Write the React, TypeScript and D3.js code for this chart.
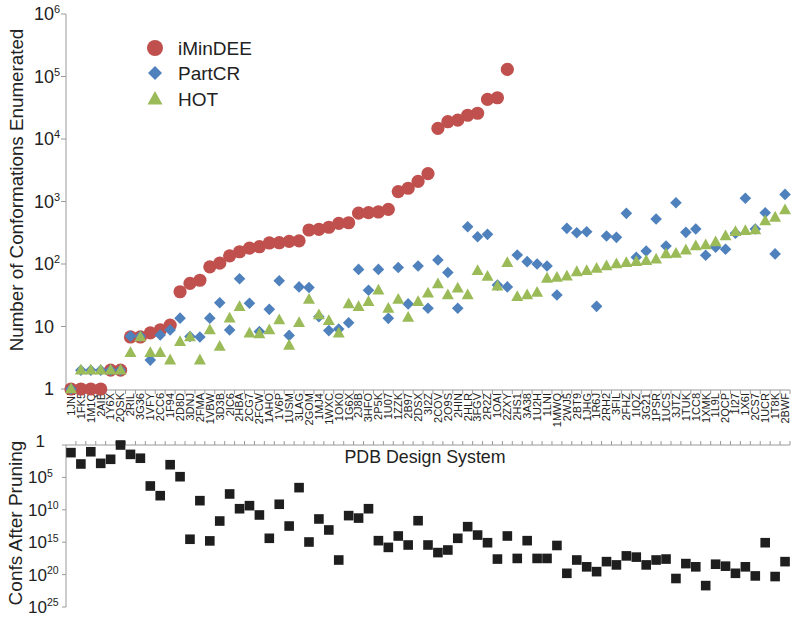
import React from 'react';
import * as d3 from 'd3';

const categories = [
  '1JNI','1FK5','1M1Q','2AIB','1Y6X','2QSK','2RIL','3G36','1VFY','2CC6','1F94','2D8D','3DNJ','2FMA','1VBW','3D3B','2IC6','2HBA','2CG7','2FCW','1AHO','1V6P','1USM','3LAG','2GOM','1MJ4','1WXC','1OK0','1G6X','2J8B','3HFO','2P5K','1U07','1ZZK','2B97','2DSX','3I2Z','2COV','2O9S','2HIN','2HLR','3FGV','2R2Z','1OAI','2ZXY','2HS1','3A38','1U2H','1LNI','1MWQ','2WJ5','2BT9','1JHG','1R6J','2RH2','3FIL','2FHZ','1IQZ','3G21','1PSR','1UCS','3JTZ','1TUK','1CC8','1XMK','1L9L','2QCP','1I27','1X6I','2CS7','1UCR','1T8K','2BWF'
];

const iMinDEE: (number | null)[] = [
  1, 1, 1, 1, 2, 2, 6.8, 6.8, 7.9, 8.8, 10.5, 36, 49, 55, 90, 103, 135, 157, 180, 189, 217, 219, 230, 235, 350, 359, 387, 448, 457, 650, 665, 680, 750, 1440, 1630, 2100, 2800, 14800, 18900, 20000, 24000, 25800, 43000, 45700, 130000,
  null, null, null, null, null, null, null, null, null, null, null, null, null, null, null, null, null, null, null, null, null, null, null, null, null, null, null, null
];

const partCR = [
  1, 2, 2, 2, 2, 2, 7, 7, 2.9, 7.3, 8.8, 13.6, 6.9, 6.8, 13.6, 24, 8.8, 58, 23.5, 8.3, 18.8, 54, 7.2, 43, 42, 14.3, 8.6, 9.1, 11.5, 82, 38, 82, 13.5, 88, 23, 93, 19.6, 116, 73, 19.6, 395, 273, 298, 46, 43, 139, 109, 100, 93, 32, 372, 317, 329, 21, 280, 267, 646, 128, 161, 525, 194, 955, 321, 363, 138, 185, 172, 310, 1130, 363, 661, 145, 1300
];

const hot = [
  1, 2, 2, 2, 2, 2, 3.8, 6.8, 3.8, 3.8, 2.9, 5.7, 6.8, 2.9, 8.8, 4.8, 13.6, 20.7, 7.8, 7.6, 8.8, 12.7, 5, 11.5, 27, 15.3, 12.4, 7.8, 23, 20.7, 25, 38, 19.5, 27, 14, 25, 34, 48, 32, 41, 32, 78, 63, 44, 105, 30, 32, 35, 59, 61, 64, 75, 78, 85, 93, 100, 105, 109, 113, 119, 145, 148, 167, 194, 201, 225, 280, 329, 341, 350, 488, 558, 731
];

const pruned = [
  1.5e1, 8.5e2, 1.1e1, 6.8e2, 1.6e2, 1, 2.8e1, 1.1e2, 2.1e6, 6.6e7, 1.1e3, 7.8e4, 3.5e14, 3.9e8, 6.3e14, 5.4e11, 3.6e7, 6.8e9, 2.3e9, 6.3e10, 2.5e14, 1.4e9, 3.2e12, 3.8e6, 9.3e14, 2.6e11, 1.3e13, 5.6e17, 7.9e10, 1.9e11, 6.8e9, 5.8e14, 6.3e15, 1.1e14, 2.7e15, 4.8e11, 2.7e15, 4.0e16, 1.6e16, 2.5e14, 4.0e12, 7.9e13, 1.2e15, 4.0e17, 1.1e14, 3.2e17, 5.8e14, 3.2e17, 3.2e17, 3.2e15, 6.3e19, 5.6e17, 6.3e18, 3.5e19, 1.0e18, 3.2e18, 1.3e17, 2.0e17, 3.2e18, 5.6e17, 4.0e17, 4.0e20, 2.0e18, 6.3e18, 5.0e21, 2.5e18, 5.0e18, 6.3e19, 6.3e18, 1.6e20, 1.2e15, 2.0e20, 1.0e18
];

const topTicks = [1, 10, 1e2, 1e3, 1e4, 1e5, 1e6];
const bottomTicks = [1, 1e5, 1e10, 1e15, 1e20, 1e25];
const legendNames = ['iMinDEE', 'PartCR', 'HOT'];

const RED = '#C0504D';
const BLUE = '#4F81BD';
const GREEN = '#9BBB59';
const AXIS = '#9a9a9a';
const FONT = '"Liberation Sans", Arial, sans-serif';

function Circle({ cx, cy, r, fill }: any) {
  return <circle cx={cx} cy={cy} r={r} fill={fill} />;
}
function Diamond({ cx, cy, s, fill }: any) {
  return <path d={`M${cx},${cy - s}L${cx + s},${cy}L${cx},${cy + s}L${cx - s},${cy}Z`} fill={fill} />;
}
function Tri({ cx, cy, s, fill }: any) {
  const h = s * 0.9;
  return <path d={`M${cx},${cy - h * 0.6}L${cx + s / 2},${cy + h * 0.4}L${cx - s / 2},${cy + h * 0.4}Z`} fill={fill} />;
}

function TickLabel({ v, x, y, fs, sup, baseStart }: any) {
  const e = Math.round(Math.log10(v));
  if (e === 0 || e === 1) {
    return (
      <text x={x} y={y} dy="0.35em" textAnchor="end" fontSize={fs} fontFamily={FONT} fill="#222">
        {e === 0 ? '1' : '10'}
      </text>
    );
  }
  return (
    <text x={baseStart} y={y} dy="0.35em" fontSize={fs} fontFamily={FONT} fill="#222">
      10<tspan fontSize={sup} dy={-fs * 0.38}>{e}</tspan>
    </text>
  );
}

export default function App() {
  const W = 800, H = 620;
  const left = 66, right = 790;
  const x = d3.scaleBand().domain(categories).range([left, right]);
  const bw = x.bandwidth();
  const cx = (c: string) => (x(c) as number) + bw / 2;
  const yTop = d3.scaleLog().domain([1, 1e6]).range([389, 14]);
  const yBot = d3.scaleLog().domain([1, 1e25]).range([445, 607]);
  const axisY = 390;
  const botAxisY = 445;

  return (
    <svg width={W} height={H} style={{ position: 'absolute', left: 0, top: 0, background: '#fff' }}>
      <rect x={0} y={0} width={W} height={H} fill="#fff" />
      {/* top y axis */}
      <line x1={left} x2={left} y1={yTop(1e6)} y2={axisY} stroke={AXIS} strokeWidth={1} />
      {topTicks.map((t) => (
        <g key={'tt' + t}>
          <line x1={left - 5} x2={left} y1={yTop(t)} y2={yTop(t)} stroke={AXIS} />
          <TickLabel v={t} x={54} y={yTop(t)} fs={18} sup={11} baseStart={34} />
        </g>
      ))}
      {/* top x axis */}
      <line x1={left} x2={right} y1={axisY} y2={axisY} stroke={AXIS} />
      {categories.map((c) => (
        <line key={'xt' + c} x1={(x(c) as number) + bw} x2={(x(c) as number) + bw} y1={axisY} y2={axisY + 4} stroke={AXIS} />
      ))}
      {categories.map((c) => (
        <text key={'xl' + c} transform={`translate(${cx(c)},${axisY + 3}) rotate(-90)`} dy="0.35em" textAnchor="end" fontSize={11} fontFamily={FONT} fill="#222">
          {c}
        </text>
      ))}
      {/* series */}
      {categories.map((c, i) => iMinDEE[i] == null ? null : (
        <Circle key={'r' + c} cx={cx(c)} cy={yTop(iMinDEE[i] as number)} r={6.6} fill={RED} />
      ))}
      {categories.map((c, i) => (
        <Diamond key={'b' + c} cx={cx(c)} cy={yTop(partCR[i])} s={5.8} fill={BLUE} />
      ))}
      {categories.map((c, i) => (
        <Tri key={'g' + c} cx={cx(c)} cy={yTop(hot[i])} s={12} fill={GREEN} />
      ))}
      {/* legend */}
      <Circle cx={155} cy={48} r={8} fill={RED} />
      <Diamond cx={155} cy={73} s={7} fill={BLUE} />
      <Tri cx={155} cy={99} s={15} fill={GREEN} />
      {legendNames.map((n, i) => (
        <text key={n} x={178} y={48 + i * 25.5} dy="0.35em" fontSize={19} fontFamily={FONT} fill="#222">{n}</text>
      ))}
      {/* y title top */}
      <text transform={`translate(23,${190}) rotate(-90)`} textAnchor="middle" fontSize={18.8} fontFamily={FONT} fill="#222">
        Number of Conformations Enumerated
      </text>

      {/* bottom panel */}
      <line x1={left} x2={left} y1={botAxisY} y2={yBot(1e25)} stroke={AXIS} />
      {bottomTicks.map((t) => (
        <g key={'bt' + t}>
          <line x1={left - 4} x2={left} y1={yBot(t)} y2={yBot(t)} stroke={AXIS} />
          <TickLabel v={t} x={45} y={t === 1 ? yBot(t) - 4 : yBot(t)} fs={17} sup={10.5} baseStart={28} />
        </g>
      ))}
      <line x1={left} x2={right} y1={botAxisY} y2={botAxisY} stroke={AXIS} />
      {categories.map((c) => (
        <line key={'bx' + c} x1={(x(c) as number) + bw} x2={(x(c) as number) + bw} y1={botAxisY - 4} y2={botAxisY} stroke={AXIS} />
      ))}
      {categories.map((c, i) => (
        <rect key={'s' + c} x={cx(c) - 4.8} y={yBot(pruned[i]) - 4.8} width={9.6} height={9.6} fill="#1e1e1e" />
      ))}
      <text x={425} y={463} textAnchor="middle" fontSize={17.8} fontFamily={FONT} fill="#222">PDB Design System</text>
      <text transform={`translate(22,${523}) rotate(-90)`} textAnchor="middle" fontSize={19} fontFamily={FONT} fill="#222">
        Confs After Pruning
      </text>
    </svg>
  );
}
